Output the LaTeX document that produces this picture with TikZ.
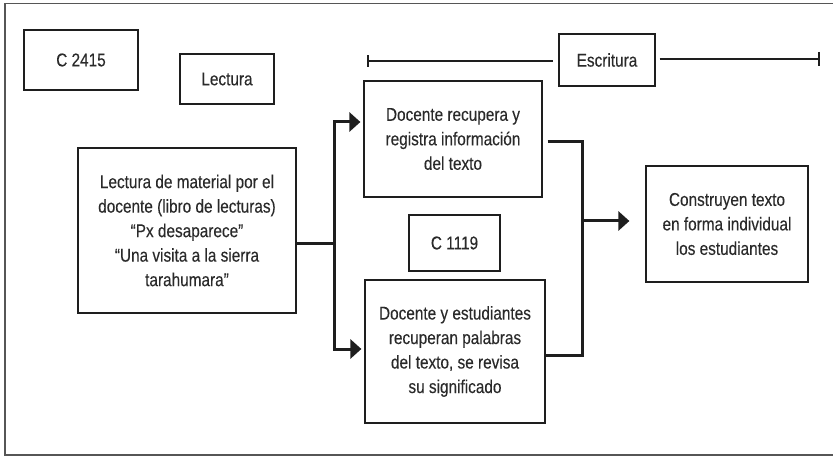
\documentclass[tikz,border=0pt]{standalone}
\usepackage{fontspec}
\setmainfont{Liberation Sans}[FakeStretch=0.83,FakeBold=0.2]
\usetikzlibrary{arrows.meta}
\definecolor{ink}{HTML}{1E1E1E}
\definecolor{txt}{HTML}{2A2A2A}
\begin{document}
\begin{tikzpicture}[x=1pt,y=-1pt,
  box/.style={draw=ink,line width=1.2pt,inner sep=0pt,align=center,text=txt,
    font=\fontsize{18.5}{24.5}\selectfont},
  conn/.style={draw=ink,line width=3pt},
  arr/.style={conn,-{Triangle[length=11pt,width=19pt]}},
  brk/.style={draw=ink,line width=2.2pt}]
\useasboundingbox (0,0) rectangle (833,457);
\draw[draw=ink!75,line width=1.5pt] (840,3.5) -- (5,3.5) -- (5,455) -- (840,455);

\node[box,minimum width=114pt,minimum height=60pt] (c2415) at (81,60) {C 2415};
\node[box,minimum width=94pt,minimum height=50pt] (lect) at (227,79) {Lectura};
\node[box,minimum width=218pt,minimum height=165pt] (main) at (187,230.5)
  {Lectura de material por el\\docente (libro de lecturas)\\“Px desaparece”\\“Una visita a la sierra\\tarahumara”};
\node[box,minimum width=178pt,minimum height=116pt] (rec) at (453,139)
  {Docente recupera y\\registra información\\del texto};
\node[box,minimum width=96pt,minimum height=52pt] (esc) at (607,60) {Escritura};
\node[box,minimum width=91pt,minimum height=56pt] (c1119) at (454.5,243) {C 1119};
\node[box,minimum width=180pt,minimum height=143pt] (est) at (455,351.5)
  {Docente y estudiantes\\recuperan palabras\\del texto, se revisa\\su significado};
\node[box,minimum width=162pt,minimum height=116pt] (con) at (727,224)
  {Construyen texto\\en forma individual\\los estudiantes};

% left fork
\coordinate (j1) at (334,244);
\draw[conn] ([yshift=-13.5pt]main.east) -- (j1);
\draw[arr,shorten >=3pt] (j1) -- (334,122) -- ([yshift=17pt]rec.west);
\draw[arr,shorten >=3pt] (j1) -- (334,349) -- ([yshift=2.5pt]est.west);

% right merge
\coordinate (j2) at (582,221);
\draw[conn,shorten <=5pt] ([yshift=-3pt]rec.east) -- (582,142) -- (582,355) -- ([yshift=-3.5pt]est.east);
\draw[arr,shorten >=16pt] (j2) -- ([yshift=3pt]con.west);

% Escritura bracket
\coordinate (bl) at (367,61);
\coordinate (br) at (820,59);
\draw[brk,{Bar[width=12pt]}-,shorten >=5pt] (bl) -- ([yshift=-1pt]esc.west);
\draw[brk,-{Bar[width=14pt]},shorten <=4pt] ([yshift=1pt]esc.east) -- (br);
\end{tikzpicture}
\end{document}
